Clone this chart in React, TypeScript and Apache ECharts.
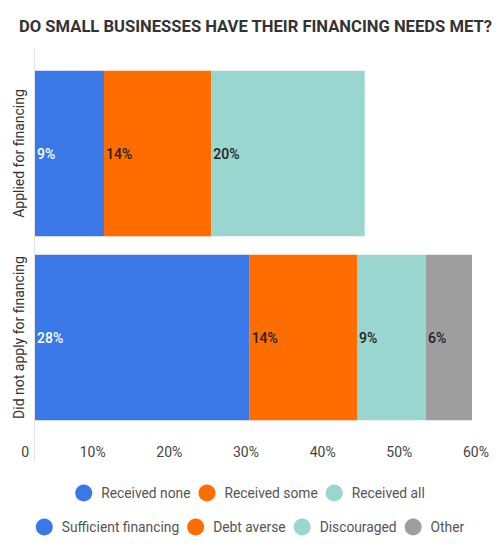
import React, { useEffect, useRef } from "react";
import * as echarts from "echarts";

const categories = ["Applied for financing", "Did not apply for financing"];
const appliedNames = ["Received none", "Received some", "Received all"];
const appliedValues = [9, 14, 20];
const notAppliedNames = ["Sufficient financing", "Debt averse", "Discouraged", "Other"];
const notAppliedValues = [28, 14, 9, 6];
const xTicks = [0, 10, 20, 30, 40, 50, 60];

const COLORS = ["#3a78e7", "#ff6d00", "#98d6cf", "#9e9e9e"];
const FONT = "Roboto, 'Noto Sans', sans-serif";

export default function App() {
  const ref = useRef<HTMLDivElement>(null);
  useEffect(() => {
    document.body.style.margin = "0";
    if (!ref.current) return;
    const chart = echarts.init(ref.current, undefined, { renderer: "svg" });
    const mkSeries = (name: string, value: number, row: number, colorIdx: number) => {
      const data: any[] = categories.map((_, i) => (i === row ? value : "-"));
      return {
        name,
        type: "bar",
        stack: "total",
        barCategoryGap: "10%",
        data,
        itemStyle: { color: COLORS[colorIdx] },
        label: {
          show: true,
          position: "insideLeft",
          distance: 2,
          formatter: "{c}%",
          color: colorIdx === 0 ? "#ffffff" : "#222222",
          fontSize: 14,
          fontWeight: 500,
          fontFamily: FONT,
        },
      };
    };
    const series = [
      ...appliedNames.map((n, i) => mkSeries(n, appliedValues[i], 0, i)),
      ...notAppliedNames.map((n, i) => mkSeries(n, notAppliedValues[i], 1, i)),
    ];
    const legendBase = {
      left: "center",
      icon: "circle",
      itemWidth: 17,
      itemHeight: 17,
      itemGap: 8,
      textStyle: { fontSize: 13.8, color: "#555555", fontFamily: FONT, padding: [0, 0, 0, 4] },
    };
    chart.setOption({
      animation: false,
      backgroundColor: "#ffffff",
      title: {
        text: "DO SMALL BUSINESSES HAVE THEIR FINANCING NEEDS MET?",
        left: 14,
        top: 13,
        textStyle: { fontSize: 16.6, fontWeight: "bold", color: "#333333", fontFamily: FONT },
      },
      grid: { left: 35, right: 5, top: 61.5, bottom: 121.5 },
      xAxis: {
        type: "value",
        min: xTicks[0],
        max: xTicks[xTicks.length - 1],
        interval: 10,
        axisLine: { show: false },
        axisTick: { show: false },
        splitLine: { show: false },
        axisLabel: {
          align: "right",
          padding: [0, 6, 0, 0],
          margin: 15,
          fontSize: 14,
          color: "#444444",
          fontFamily: FONT,
          formatter: (v: number) => (v === 0 ? "0" : v + "%"),
        },
      },
      yAxis: {
        type: "category",
        data: categories,
        inverse: true,
        axisLine: { show: false },
        axisTick: { show: false },
        axisLabel: {
          interval: 0,
          rotate: 90,
          margin: 9,
          fontSize: 14,
          color: "#333333",
          fontFamily: FONT,
        },
      },
      legend: [
        { ...legendBase, data: appliedNames, top: 479.5 },
        { ...legendBase, data: notAppliedNames, top: 513.5 },
      ],
      graphic: [
        {
          type: "line",
          shape: { x1: 34.5, y1: 48, x2: 34.5, y2: 462 },
          style: { stroke: "#e4e4e4", lineWidth: 1 },
          z: -1,
        },
      ],
      series,
    });
    return () => chart.dispose();
  }, []);
  return <div ref={ref} style={{ width: 500, height: 551 }} />;
}
